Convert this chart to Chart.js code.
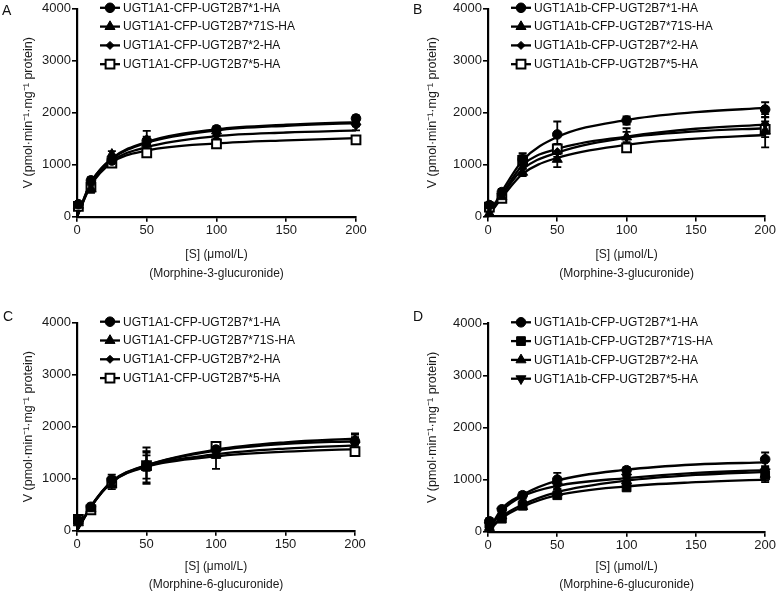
<!DOCTYPE html>
<html><head><meta charset="utf-8">
<script src="https://cdn.jsdelivr.net/npm/chart.js@4/dist/chart.umd.min.js"></script>
<style>
html,body{margin:0;padding:0;background:#fff;}
body{width:777px;height:594px;position:relative;overflow:hidden;font-family:"Liberation Sans",Arial,sans-serif;}
canvas{position:absolute;}
.letter{position:absolute;font-size:14px;line-height:14px;color:#111;}
</style></head><body>
<canvas id="cA" width="388" height="300" style="left:0;top:0"></canvas>
<canvas id="cB" width="389" height="300" style="left:388px;top:0"></canvas>
<canvas id="cC" width="388" height="294" style="left:0;top:300px"></canvas>
<canvas id="cD" width="389" height="294" style="left:388px;top:300px"></canvas>
<div class="letter" style="left:2px;top:3px">A</div>
<div class="letter" style="left:413px;top:2px">B</div>
<div class="letter" style="left:3px;top:309px">C</div>
<div class="letter" style="left:413px;top:309px">D</div>
<script>
// ---- shared axes ----
const xPts = [1, 10, 25, 50, 100, 200];          // substrate concentrations (µmol/L)
const xFit = [0, 10, 25, 50, 100, 150, 200];     // x positions where fitted curves were read
const xTicks = [0, 50, 100, 150, 200];
const yTicks = [0, 1000, 2000, 3000, 4000];
const yTitle = 'V (pmol·min⁻¹·mg⁻¹ protein)';
const xTitleM3G = ['[S] (μmol/L)', '(Morphine-3-glucuronide)'];
const xTitleM6G = ['[S] (μmol/L)', '(Morphine-6-glucuronide)'];

// ---- legend labels ----
const labelsA = ['UGT1A1-CFP-UGT2B7*1-HA', 'UGT1A1-CFP-UGT2B7*71S-HA', 'UGT1A1-CFP-UGT2B7*2-HA', 'UGT1A1-CFP-UGT2B7*5-HA'];
const labelsB = ['UGT1A1b-CFP-UGT2B7*1-HA', 'UGT1A1b-CFP-UGT2B7*71S-HA', 'UGT1A1b-CFP-UGT2B7*2-HA', 'UGT1A1b-CFP-UGT2B7*5-HA'];

// ---- Panel A (M3G, UGT1A1) ----
const A_v1  = [240, 700, 1080, 1460, 1680, 1890];
const A_v71 = [220, 540, 1200, 1400, 1650, 1820];
const A_v2  = [230, 620, 1080, 1500, 1560, 1750];
const A_v5  = [200, 570, 1030, 1230, 1400, 1480];
const A_e1  = [30, 60, 60, 80, 60, 60];
const A_e71 = [30, 80, 60, 100, 60, 80];
const A_e2  = [30, 70, 50, 150, 60, 90];
const A_e5  = [30, 60, 50, 80, 60, 50];
const A_f1  = [0, 650, 1120, 1440, 1680, 1770, 1820];
const A_f71 = [0, 660, 1110, 1420, 1660, 1750, 1800];
const A_f2  = [0, 620, 1070, 1340, 1550, 1620, 1660];
const A_f5  = [0, 600, 1040, 1270, 1410, 1470, 1510];

// ---- Panel B (M3G, UGT1A1b) ----
const B_v1  = [220, 470, 1100, 1580, 1850, 2060];
const B_v71 = [60, 380, 850, 1100, 1530, 1650];
const B_v2  = [230, 420, 1000, 1250, 1520, 1780];
const B_v5  = [180, 350, 1080, 1300, 1320, 1680];
const B_e1  = [40, 60, 120, 250, 80, 140];
const B_e71 = [30, 60, 70, 150, 100, 320];
const B_e2  = [40, 50, 80, 100, 180, 130];
const B_e5  = [30, 60, 100, 100, 80, 150];
const B_f1  = [0, 480, 1080, 1530, 1860, 2010, 2090];
const B_f71 = [0, 360, 820, 1130, 1380, 1500, 1570];
const B_f2  = [0, 400, 910, 1230, 1520, 1640, 1700];
const B_f5  = [0, 420, 990, 1300, 1540, 1690, 1770];

// ---- Panel C (M6G, UGT1A1) ----
const C_v1  = [200, 460, 980, 1250, 1560, 1720];
const C_v71 = [150, 420, 880, 1230, 1450, 1750];
const C_v2  = [180, 450, 950, 1300, 1500, 1700];
const C_v5  = [220, 400, 920, 1250, 1620, 1520];
const C_e1  = [40, 60, 100, 350, 120, 150];
const C_e71 = [30, 50, 80, 300, 260, 100];
const C_e2  = [30, 60, 90, 150, 100, 100];
const C_e5  = [40, 60, 80, 250, 80, 80];
const C_f1  = [0, 470, 950, 1260, 1560, 1700, 1770];
const C_f71 = [0, 465, 945, 1255, 1540, 1670, 1720];
const C_f2  = [0, 460, 935, 1240, 1470, 1580, 1640];
const C_f5  = [0, 455, 930, 1230, 1430, 1520, 1570];

// ---- Panel D (M6G, UGT1A1b) ----
const D_v1  = [200, 430, 700, 1000, 1180, 1390];
const D_v71 = [150, 250, 500, 700, 850, 1080];
const D_v2  = [80, 300, 480, 750, 980, 1100];
const D_v5  = [120, 400, 650, 880, 1050, 1150];
const D_e1  = [60, 50, 60, 130, 60, 130];
const D_e71 = [40, 60, 60, 60, 60, 130];
const D_e2  = [30, 60, 50, 60, 60, 120];
const D_e5  = [40, 50, 50, 60, 60, 80];
const D_f1  = [0, 440, 710, 980, 1190, 1290, 1330];
const D_f71 = [0, 260, 480, 700, 870, 950, 1000];
const D_f2  = [0, 290, 520, 760, 980, 1090, 1150];
const D_f5  = [0, 400, 680, 880, 1030, 1130, 1180];

const FONT = '"Liberation Sans", Arial, sans-serif';
const MK = {
  circle:  {style:'circle',   rot:0,   r:4.8, fill:'#000', bw:1},
  tri:     {style:'triangle', rot:0,   r:5.8, fill:'#000', bw:1},
  triDown: {style:'triangle', rot:180, r:5.8, fill:'#000', bw:1},
  diamond: {style:'rectRot',  rot:0,   r:4,   fill:'#000', bw:1},
  sqOpen:  {style:'rect',     rot:0,   r:6.2, fill:'#fff', bw:2},
  sqFill:  {style:'rect',     rot:0,   r:6.2, fill:'#000', bw:1}
};

function ownPoint(ctx, m, x, y) {
  const r = m.r; ctx.beginPath();
  if (m.style === 'circle') ctx.arc(x, y, r, 0, Math.PI*2);
  else if (m.style === 'triangle') {
    let a = m.rot*Math.PI/180;
    for (let k=0;k<3;k++){ const px=x+Math.sin(a)*r, py=y-Math.cos(a)*r; k?ctx.lineTo(px,py):ctx.moveTo(px,py); a+=2*Math.PI/3; }
    ctx.closePath();
  } else if (m.style === 'rectRot') {
    ctx.moveTo(x-r,y); ctx.lineTo(x,y-r); ctx.lineTo(x+r,y); ctx.lineTo(x,y+r); ctx.closePath();
  } else { const s=Math.SQRT1_2*r; ctx.rect(x-s,y-s,2*s,2*s); }
  ctx.fill(); ctx.stroke();
}

const panelPlugin = {
  id: 'panelExtras',
  beforeDatasetsDraw(chart) {
    const ctx = chart.ctx, xs = chart.scales.x, ys = chart.scales.y;
    ctx.save(); ctx.strokeStyle = '#000'; ctx.lineWidth = 1.8;
    chart.data.datasets.forEach(ds => {
      if (!ds.errors) return;
      ds.data.forEach((p, j) => {
        const px = xs.getPixelForValue(p.x);
        const y1 = ys.getPixelForValue(p.y + ds.errors[j]);
        const y2 = ys.getPixelForValue(Math.max(0, p.y - ds.errors[j]));
        ctx.beginPath();
        ctx.moveTo(px, y1); ctx.lineTo(px, y2);
        ctx.moveTo(px-4, y1); ctx.lineTo(px+4, y1);
        ctx.moveTo(px-4, y2); ctx.lineTo(px+4, y2);
        ctx.stroke();
      });
    });
    ctx.restore();
  },
  afterDraw(chart) {
    const ctx = chart.ctx, ca = chart.chartArea;
    ctx.save();
    chart.data.datasets.filter(d => d.marker).forEach((ds, i) => {
      const y = ca.top - 1 + i*18.8;
      ctx.strokeStyle = '#000'; ctx.lineWidth = 2.3;
      ctx.beginPath(); ctx.moveTo(ca.left+23, y); ctx.lineTo(ca.left+43, y); ctx.stroke();
      ctx.fillStyle = ds.marker.fill; ctx.lineWidth = ds.marker.bw;
      ownPoint(ctx, ds.marker, ca.left+33, y);
      ctx.fillStyle = '#111'; ctx.font = '12px ' + FONT; ctx.textBaseline = 'middle'; ctx.textAlign = 'left';
      ctx.fillText(ds.label, ca.left+46, y+0.5);
    });
    ctx.restore();
  }
};

function makeChart(id, cfg) {
  const datasets = [];
  cfg.series.forEach(s => {
    datasets.push({
      label: s.label, marker: s.mk, errors: s.err,
      data: xPts.map((x, j) => ({x: x, y: s.v[j]})),
      showLine: false, pointStyle: s.mk.style, pointRotation: s.mk.rot, pointRadius: s.mk.r,
      pointBackgroundColor: s.mk.fill, pointBorderColor: '#000', pointBorderWidth: s.mk.bw,
      clip: false, order: 0
    });
  });
  cfg.series.forEach(s => {
    datasets.push({
      label: '', data: xFit.map((x, j) => ({x: x, y: s.f[j]})),
      borderColor: '#000', borderWidth: 2.3, pointRadius: 0, fill: false,
      cubicInterpolationMode: 'monotone', clip: false, order: 1
    });
  });
  return new Chart(document.getElementById(id), {
    type: 'line',
    data: {datasets},
    plugins: [panelPlugin],
    options: {
      responsive: false, animation: false, events: [],
      layout: {autoPadding: false, padding: {top: cfg.pt, right: cfg.pr, bottom: 0, left: 0}},
      plugins: {legend: {display: false}, tooltip: {enabled: false}},
      scales: {
        x: {
          type: 'linear', min: 0, max: 200,
          afterFit: s => { s.height = cfg.xh; },
          afterBuildTicks: s => { s.ticks = xTicks.map(v => ({value: v})); },
          ticks: {color: '#1a1a1a', font: {size: 13, family: FONT}, padding: 1, maxRotation: 0, autoSkip: false, callback: v => String(v)},
          grid: {display: true, drawOnChartArea: false, drawTicks: true, tickLength: 5, color: '#000', lineWidth: 1.6},
          border: {display: true, color: '#000', width: 2.2},
          title: {display: true, text: cfg.xTitle, color: '#1a1a1a', font: {size: 12, family: FONT, lineHeight: 1.54}, padding: {top: 0, bottom: cfg.xtpb}}
        },
        y: {
          type: 'linear', min: 0, max: 4000,
          afterFit: s => { s.width = cfg.yw; },
          afterBuildTicks: s => { s.ticks = yTicks.map(v => ({value: v})); },
          ticks: {color: '#1a1a1a', font: {size: 13, family: FONT}, padding: 1, autoSkip: false, callback: v => String(v)},
          grid: {display: true, drawOnChartArea: false, drawTicks: true, tickLength: 5, color: '#000', lineWidth: 1.6},
          border: {display: true, color: '#000', width: 2.2},
          title: {display: true, text: yTitle, color: '#1a1a1a', font: {size: 12.5, family: FONT, lineHeight: 1.2}, padding: {top: cfg.ytp, bottom: 0}}
        }
      }
    }
  });
}

makeChart('cA', {pt: 7, pr: 32, yw: 77, xh: 83.3, xtpb: 17.5, ytp: 21, xTitle: xTitleM3G, series: [
  {label: labelsA[0], mk: MK.circle,  v: A_v1,  err: A_e1,  f: A_f1},
  {label: labelsA[1], mk: MK.tri,     v: A_v71, err: A_e71, f: A_f71},
  {label: labelsA[2], mk: MK.diamond, v: A_v2,  err: A_e2,  f: A_f2},
  {label: labelsA[3], mk: MK.sqOpen,  v: A_v5,  err: A_e5,  f: A_f5}
]});
makeChart('cB', {pt: 7, pr: 11, yw: 100, xh: 83.5, xtpb: 17.5, ytp: 37, xTitle: xTitleM3G, series: [
  {label: labelsB[0], mk: MK.circle,  v: B_v1,  err: B_e1,  f: B_f1},
  {label: labelsB[1], mk: MK.tri,     v: B_v71, err: B_e71, f: B_f71},
  {label: labelsB[2], mk: MK.diamond, v: B_v2,  err: B_e2,  f: B_f2},
  {label: labelsB[3], mk: MK.sqOpen,  v: B_v5,  err: B_e5,  f: B_f5}
]});
makeChart('cC', {pt: 22.7, pr: 33, yw: 77, xh: 63.3, xtpb: 0, ytp: 21, xTitle: xTitleM6G, series: [
  {label: labelsA[0], mk: MK.circle,  v: C_v1,  err: C_e1,  f: C_f1},
  {label: labelsA[1], mk: MK.tri,     v: C_v71, err: C_e71, f: C_f71},
  {label: labelsA[2], mk: MK.diamond, v: C_v2,  err: C_e2,  f: C_f2},
  {label: labelsA[3], mk: MK.sqOpen,  v: C_v5,  err: C_e5,  f: C_f5}
]});
makeChart('cD', {pt: 23.3, pr: 11, yw: 100, xh: 62.3, xtpb: 0, ytp: 37, xTitle: xTitleM6G, series: [
  {label: labelsB[0], mk: MK.circle,  v: D_v1,  err: D_e1,  f: D_f1},
  {label: labelsB[1], mk: MK.sqFill,  v: D_v71, err: D_e71, f: D_f71},
  {label: labelsB[2], mk: MK.tri,     v: D_v2,  err: D_e2,  f: D_f2},
  {label: labelsB[3], mk: MK.triDown, v: D_v5,  err: D_e5,  f: D_f5}
]});
</script>
</body></html>
